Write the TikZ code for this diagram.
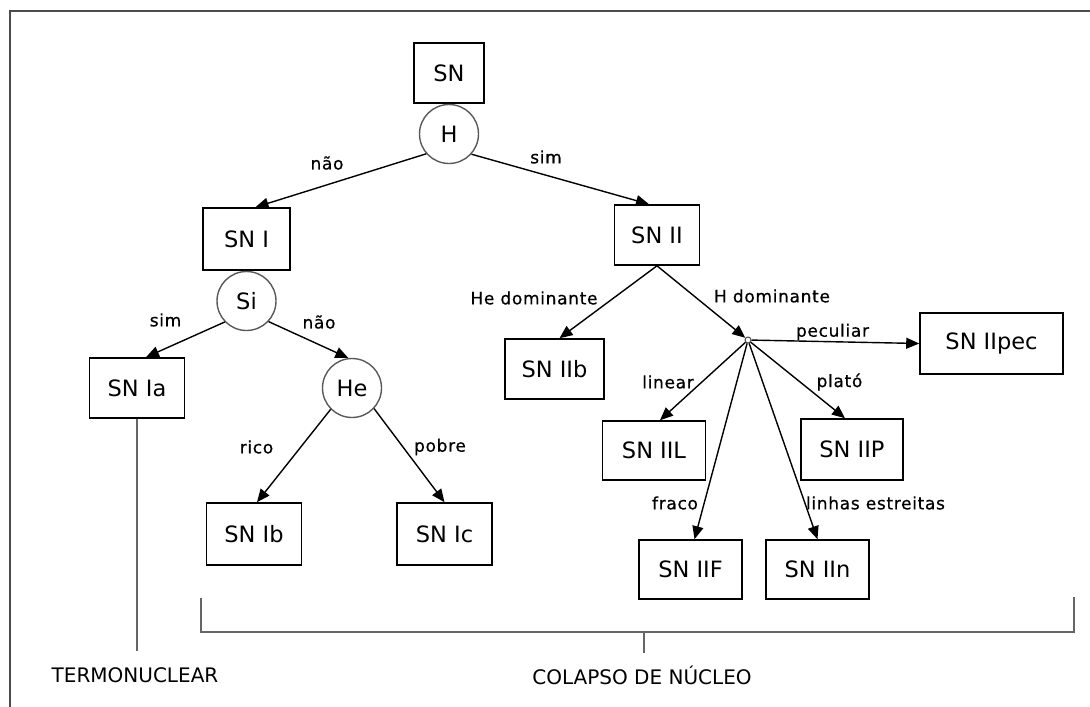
\documentclass[tikz,border=0pt]{standalone}
\usepackage{fontspec}
\setmainfont{DejaVu Sans}
\newfontfamily\edgefont[LetterSpace=4,FakeBold=0.6]{DejaVu Sans}
\usetikzlibrary{arrows.meta,positioning}
\newcommand{\boxfont}{\fontsize{22.5}{27}\selectfont}
\newcommand{\lblfont}{\edgefont\fontsize{17}{20}\selectfont}
\newcommand{\capfont}{\fontsize{20}{24}\selectfont}
\tikzset{
  rectbox/.style args={#1,#2}{
  draw=black,
  line width=1.6pt,
  inner sep=0pt,
  minimum width=#1,
  minimum height=#2,
  font=\boxfont
  },
  elemcircle/.style={circle,draw=black!65,line width=1.4pt,minimum size=59pt,inner sep=0pt,font=\boxfont},
  hubdot/.style={circle,draw=black!70,fill=white,line width=1pt,minimum size=6pt,inner sep=0pt},
  lbl/.style={inner sep=0pt,font=\lblfont},
  capt/.style={inner sep=0pt,font=\capfont},
  bracket/.style={-,draw=black!60,line width=2pt},
  frame/.style={-,draw=black!70,line width=2pt}
}
\begin{document}
\begin{tikzpicture}[x=1pt,y=-1pt,->,>={Triangle[length=13pt,width=11pt]},line width=1.4pt]
  \useasboundingbox (0,0) rectangle (1090,707);
  \draw[frame] (10,707) -- (10,11) -- (1090,11);

  % tipos de supernova
  \node [rectbox={70,60}] (sn) at (449,73) {SN};
  \node [elemcircle,below=0pt of sn] (h) {H};
  \node [rectbox={87,62}] (sn1) at (246.5,239) {SN I};
  \node [elemcircle,below=0pt of sn1] (si) {Si};
  \node [rectbox={85,60}] (sn2) at (657,235) {SN II};
  \node [rectbox={95,60}] (sn1a) at (137,388) {SN Ia};
  \node [elemcircle] (he) at (352,388) {He};
  \node [rectbox={95,62}] (sn1b) at (254,534) {SN Ib};
  \node [rectbox={95,62}] (sn1c) at (444.5,534) {SN Ic};
  \node [rectbox={99,60}] (sn2b) at (554.5,369) {SN IIb};
  \node [hubdot] (hub) at (748,340) {};
  \node [rectbox={143,61}] (sn2pec) at (991.5,343.5) {SN IIpec};
  \node [rectbox={103,59}] (sn2l) at (654,450.5) {SN IIL};
  \node [rectbox={102,61}] (sn2p) at (852,449.5) {SN IIP};
  \node [rectbox={103,59}] (sn2f) at (690.5,569.5) {SN IIF};
  \node [rectbox={103,59}] (sn2n) at (817.5,569.5) {SN IIn};

  \draw (h.221) -- ([xshift=9pt]sn1.north);
  \draw (h.318) -- ([xshift=-8pt]sn2.north);
  \draw (si.224) -- ([xshift=9pt]sn1a.north);
  \draw (si.317) -- (he.97);
  \draw (he.225) -- ([xshift=3pt]sn1b.north);
  \draw (he.317) -- (sn1c.north);
  \draw (sn2.south) -- ([xshift=5pt]sn2b.north);
  \draw (sn2.south) -- (hub);
  \draw (hub) -- (sn2pec.west);
  \draw (hub) -- ([xshift=6pt]sn2l.north);
  \draw (hub) -- ([xshift=-7pt]sn2p.north);
  \draw (hub) -- ([xshift=4pt]sn2f.north);
  \draw (hub) -- (sn2n.north);

  % rotulos
  \node [lbl] (lbnao) at (327,163) {não};
  \node [lbl] (lbsim) at (546,157) {sim};
  \node [lbl] (lbsimsi) at (165.5,320) {sim};
  \node [lbl] (lbnaosi) at (319,322) {não};
  \node [lbl] (lbhedom) at (534,298) {He dominante};
  \node [lbl] (lbhdom) at (772,296) {H dominante};
  \node [lbl] (lbpec) at (832.5,332) {peculiar};
  \node [lbl] (lblin) at (668,382) {linear};
  \node [lbl] (lbplato) at (839.5,382) {plató};
  \node [lbl] (lbfraco) at (675,503) {fraco};
  \node [lbl] (lbestr) at (875.5,503) {linhas estreitas};
  \node [lbl] (lbrico) at (256.5,447) {rico};
  \node [lbl] (lbpobre) at (440,447) {pobre};

  % mecanismos
  \node [capt] (termo) at (135,675) {TERMONUCLEAR};
  \node [capt] (colapso) at (642,675) {COLAPSO DE NÚCLEO};
  \draw[bracket] (sn1a.south) -- ++(0,232);
  \coordinate (brl) at (200.5,598);
  \coordinate (brr) at (1074,597);
  \draw[bracket] (brl) -- ++(0,34) -| (brr);
  \coordinate (brm) at (644,632);
  \draw[bracket] (brm) -- ++(0,21);
\end{tikzpicture}
\end{document}
